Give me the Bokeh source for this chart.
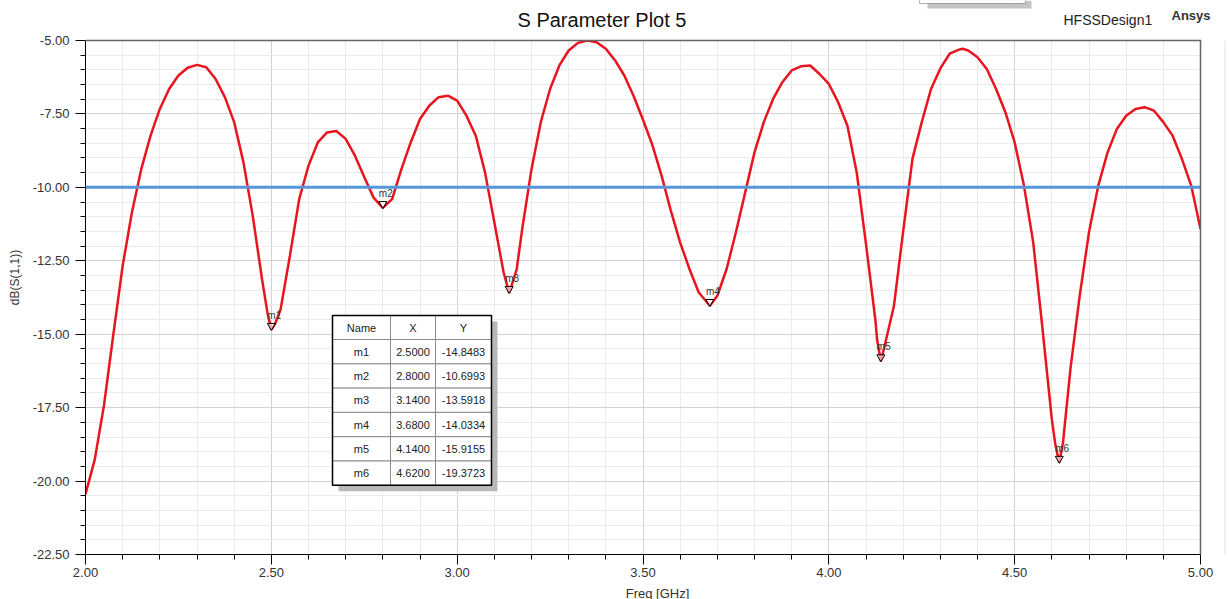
from bokeh.plotting import figure
from bokeh.models import (Range1d, SingleIntervalTicker, Span, Label, NumeralTickFormatter,
                          BoxAnnotation)
from bokeh.embed import file_html
from bokeh.resources import INLINE
from bokeh.core.properties import value

FONT = "Liberation Sans"

# ---------------- data ----------------
freq_ghz = [2.000, 2.025, 2.050, 2.075, 2.100, 2.125, 2.150, 2.175, 2.200, 2.225,
            2.250, 2.275, 2.300, 2.325, 2.350, 2.375, 2.400, 2.425, 2.450, 2.475,
            2.490, 2.500, 2.510, 2.525, 2.550, 2.575, 2.600, 2.625, 2.650, 2.675,
            2.700, 2.725, 2.750, 2.775, 2.800, 2.825, 2.850, 2.875, 2.900, 2.925,
            2.950, 2.975, 3.000, 3.025, 3.050, 3.075, 3.100, 3.125, 3.140, 3.160,
            3.175, 3.200, 3.225, 3.250, 3.275, 3.300, 3.325, 3.350, 3.375, 3.400,
            3.425, 3.450, 3.475, 3.500, 3.525, 3.550, 3.575, 3.600, 3.625, 3.650,
            3.680, 3.700, 3.725, 3.750, 3.775, 3.800, 3.825, 3.850, 3.875, 3.900,
            3.925, 3.950, 3.975, 4.000, 4.025, 4.050, 4.075, 4.100, 4.125, 4.130,
            4.140, 4.150, 4.175, 4.200, 4.225, 4.250, 4.275, 4.300, 4.325, 4.350,
            4.360, 4.375, 4.400, 4.425, 4.450, 4.475, 4.500, 4.525, 4.550, 4.575,
            4.600, 4.610, 4.620, 4.630, 4.650, 4.675, 4.700, 4.725, 4.750, 4.775,
            4.800, 4.825, 4.850, 4.875, 4.900, 4.925, 4.950, 4.975, 5.000]
db_s11 = [-20.45, -19.26, -17.40, -15.00, -12.67, -10.85, -9.38, -8.24, -7.33, -6.65,
          -6.19, -5.93, -5.83, -5.91, -6.31, -6.93, -7.78, -9.15, -10.97, -13.13,
          -14.30, -14.85, -14.65, -14.15, -12.33, -10.40, -9.26, -8.47, -8.13, -8.08,
          -8.35, -8.92, -9.65, -10.35, -10.70, -10.40, -9.38, -8.47, -7.67, -7.22,
          -6.93, -6.88, -7.05, -7.56, -8.24, -9.49, -11.19, -12.90, -13.59, -12.80,
          -11.42, -9.38, -7.78, -6.65, -5.85, -5.34, -5.08, -5.00, -5.06, -5.28,
          -5.68, -6.20, -6.90, -7.70, -8.55, -9.60, -10.80, -11.88, -12.78, -13.58,
          -14.03, -13.69, -12.78, -11.53, -10.17, -8.81, -7.78, -6.99, -6.42, -6.02,
          -5.88, -5.85, -6.14, -6.48, -7.10, -7.90, -9.49, -11.93, -14.49, -15.20,
          -15.92, -15.40, -14.05, -11.50, -9.03, -7.78, -6.65, -5.95, -5.45, -5.31,
          -5.28, -5.34, -5.57, -5.97, -6.65, -7.44, -8.47, -9.94, -11.88, -14.83,
          -17.90, -18.80, -19.37, -18.70, -16.19, -13.69, -11.53, -9.94, -8.81, -8.01,
          -7.56, -7.33, -7.27, -7.39, -7.78, -8.24, -9.03, -9.94, -11.42]

marker_names = ["m1", "m2", "m3", "m4", "m5", "m6"]
marker_x = [2.5000, 2.8000, 3.1400, 3.6800, 4.1400, 4.6200]
marker_y = [-14.8483, -10.6993, -13.5918, -14.0334, -15.9155, -19.3723]

threshold_db = -10.0
table_header = ["Name", "X", "Y"]
title_text = "S Parameter Plot 5"
design_text = "HFSSDesign1"
brand_text = "Ansys"

x_lo, x_hi = 2.0, 5.0
y_lo, y_hi = -22.5, -5.0

# ---------------- layout ----------------
FW, FH = 1115, 514          # size of the actual plotting area
TOP_PX = 40                 # header strip kept inside the frame (for the header texts)
RIGHT_PX = 29               # right strip kept inside the frame
KX = (x_hi - x_lo) / FW     # data units per screen px
KY = (y_hi - y_lo) / FH
y_top = y_hi + TOP_PX * KY
x_right = x_hi + RIGHT_PX * KX

def px_x(px):               # px measured from the left edge of the plotting area
    return x_lo + px * KX

def px_y(py):               # py measured down from the top of the page
    return y_hi + (TOP_PX - py) * KY

p = figure(frame_width=FW + RIGHT_PX, frame_height=FH + TOP_PX,
           min_border_left=85, min_border_right=0, min_border_top=0, min_border_bottom=45,
           x_range=Range1d(x_lo, x_right), y_range=Range1d(y_lo, y_top),
           output_backend="svg", toolbar_location=None, tools="",
           background_fill_color="white", border_fill_color="white")

p.outline_line_color = None

p.xaxis.ticker = SingleIntervalTicker(interval=0.5, num_minor_ticks=5)
p.yaxis.ticker = SingleIntervalTicker(interval=2.5, num_minor_ticks=5)
p.xaxis.formatter = NumeralTickFormatter(format="0.00")
p.yaxis.formatter = NumeralTickFormatter(format="0.00")
p.xaxis.bounds = (x_lo, x_hi)
p.yaxis.bounds = (y_lo, y_hi)

for ax in (p.xaxis, p.yaxis):
    ax.axis_line_color = "black"
    ax.axis_line_width = 1
    ax.major_tick_in = 0
    ax.major_tick_out = 10
    ax.minor_tick_in = 0
    ax.minor_tick_out = 5
    ax.major_tick_line_color = "black"
    ax.minor_tick_line_color = "black"
    ax.major_label_text_font = FONT
    ax.major_label_text_font_size = "13px"
    ax.major_label_text_color = "#333333"
    ax.axis_label_text_font = FONT
    ax.axis_label_text_font_style = "normal"
    ax.axis_label_text_color = "#333333"

p.xaxis.axis_label = "Freq [GHz]"
p.xaxis.axis_label_text_font_size = "13px"
p.xaxis.major_label_standoff = 3
p.xaxis.axis_label_standoff = 6
p.yaxis.axis_label = "dB(S(1,1))"
p.yaxis.axis_label_text_font_size = "12px"
p.yaxis.major_label_standoff = 6
p.yaxis.axis_label_standoff = 8

p.xgrid.grid_line_color = "#d2d2d2"
p.ygrid.grid_line_color = "#d2d2d2"
p.xgrid.minor_grid_line_color = "#ebebeb"
p.ygrid.minor_grid_line_color = "#ebebeb"

# threshold line
p.add_layout(Span(location=threshold_db, dimension="width", line_color="#5596d8", line_width=3))

# curve
p.line(freq_ghz, db_s11, line_color="#e8141e", line_width=2.5)

# markers
p.scatter(marker_x, [y + 4 * KY for y in marker_y], marker="inverted_triangle",
          size=8, fill_color="white", fill_alpha=0.6, line_color="black", line_width=1)
p.text(marker_x, marker_y, text=marker_names, x_offset=-4, y_offset=-9,
       text_baseline="bottom", text_align="left", text_font=value(FONT),
       text_font_size="10px", text_color="#333333")

# marker table
T_LEFT_PX, T_TOP_PX = 247, 275
col_w = [58, 45, 56]
row_h = [24] + [24.3] * len(marker_names)
col_edges = [px_x(T_LEFT_PX)]
for w in col_w:
    col_edges.append(col_edges[-1] + w * KX)
row_edges = [y_hi - T_TOP_PX * KY]
for h in row_h:
    row_edges.append(row_edges[-1] - h * KY)

rows = [table_header] + [[n, "%.4f" % x, "%.4f" % y] for n, x, y in zip(marker_names, marker_x, marker_y)]

sh = 6
p.quad(left=[col_edges[0] + sh * KX], right=[col_edges[-1] + sh * KX],
       top=[row_edges[0] - sh * KY], bottom=[row_edges[-1] - sh * KY],
       fill_color="#b8b8b8", line_color=None)

ql, qr, qt, qb, cx, cy, ct = [], [], [], [], [], [], []
for r, row in enumerate(rows):
    for c, txt in enumerate(row):
        ql.append(col_edges[c]); qr.append(col_edges[c + 1])
        qt.append(row_edges[r]); qb.append(row_edges[r + 1])
        cx.append((col_edges[c] + col_edges[c + 1]) / 2)
        cy.append((row_edges[r] + row_edges[r + 1]) / 2)
        ct.append(txt)
p.quad(left=ql, right=qr, top=qt, bottom=qb, fill_color="white", line_color="#8a8a8a", line_width=1)
p.quad(left=[col_edges[0]], right=[col_edges[-1]], top=[row_edges[0]], bottom=[row_edges[-1]],
       fill_alpha=0, line_color="black", line_width=1.5)
p.text(cx, cy, text=ct, text_align="center", text_baseline="middle",
       text_font=value(FONT), text_font_size="11px", text_color="#222222")

# white cover for the header strip and the right strip
p.add_layout(BoxAnnotation(bottom=y_hi, fill_color="white", fill_alpha=1.0, line_color=None))
p.add_layout(BoxAnnotation(left=x_hi, fill_color="white", fill_alpha=1.0, line_color=None))
# top and right borders of the plotting area
p.add_layout(BoxAnnotation(left=x_lo, right=x_hi + 0.75 * KX, bottom=y_hi - 0.75 * KY,
                           top=y_hi + 0.75 * KY, fill_color="#666666", fill_alpha=1.0, line_color=None))
p.add_layout(BoxAnnotation(left=x_hi - 0.75 * KX, right=x_hi + 0.75 * KX, bottom=y_lo,
                           top=y_hi, fill_color="#666666", fill_alpha=1.0, line_color=None))
# faint window edge on the far right
p.add_layout(BoxAnnotation(left=x_hi + 24 * KX, right=x_hi + 25 * KX, bottom=y_lo - 2.0, top=px_y(40),
                           fill_color="#e2e2e2", fill_alpha=1.0, line_color=None))

# partially visible box at the top of the page (cut-off report legend)
p.add_layout(BoxAnnotation(left=px_x(842), right=px_x(946), bottom=px_y(8), top=y_top,
                           fill_color="#c4c4c4", fill_alpha=1.0, line_color=None))
p.add_layout(BoxAnnotation(left=px_x(834), right=px_x(940), bottom=px_y(3), top=px_y(-4),
                           fill_color="white", fill_alpha=1.0, line_color="black", line_width=1))

# header texts
p.add_layout(Label(x=px_x(432), y=px_y(19), text=title_text,
                   text_font=FONT, text_font_size="20px", text_color="#111111",
                   text_baseline="middle", text_align="left"))
p.add_layout(Label(x=px_x(978), y=px_y(19), text=design_text,
                   text_font=FONT, text_font_size="14px", text_color="#222222",
                   text_baseline="middle", text_align="left"))
p.add_layout(Label(x=px_x(1086), y=px_y(15), text=brand_text,
                   text_font=FONT, text_font_size="13px", text_font_style="bold",
                   text_color="#333333", text_baseline="middle", text_align="left"))

open("out.html", "w").write(file_html(p, INLINE))
